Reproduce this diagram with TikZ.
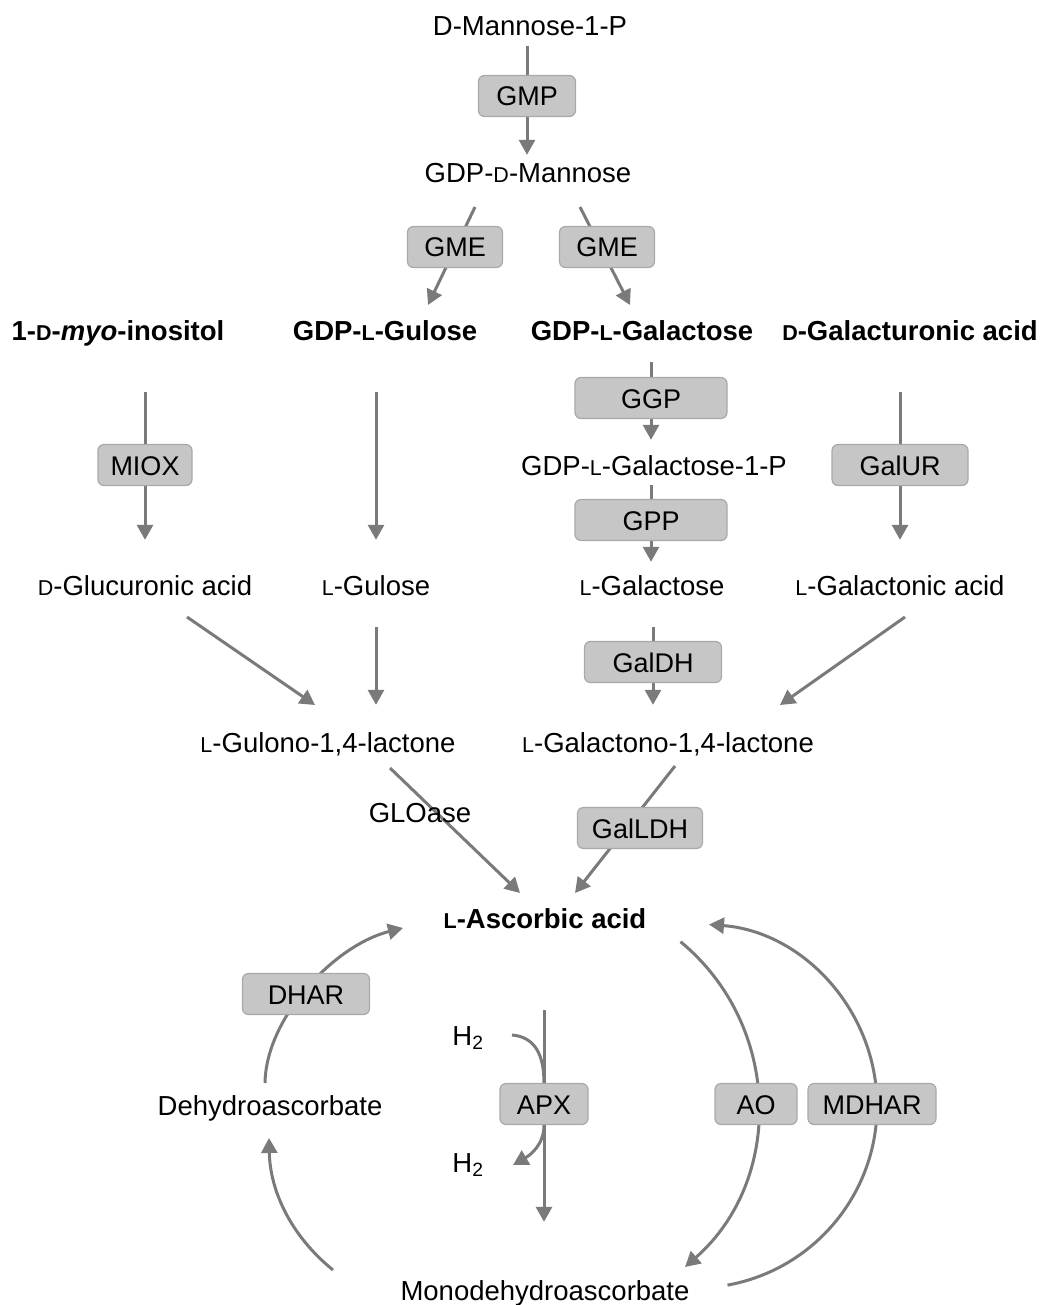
\documentclass[tikz,border=0pt]{standalone}
\usepackage{fontspec}
\setmainfont{Liberation Sans}
\usetikzlibrary{arrows.meta,backgrounds,calc}
\definecolor{lncol}{HTML}{7A7A7A}
\definecolor{boxfill}{HTML}{C6C6C6}
\definecolor{boxdraw}{HTML}{A9A9A9}
\newcommand{\smc}[1]{{\fontsize{21.5}{22}\selectfont #1}}
\begin{document}
\begin{tikzpicture}[x=1pt,y=-1pt,
  lbl/.style={inner sep=0pt, text height=20pt, text depth=0pt, font=\fontsize{27.5}{32}\selectfont},
  blbl/.style={lbl, font=\fontsize{27.5}{32}\selectfont\bfseries},
  enz/.style={draw=boxdraw, fill=boxfill, line width=1.2pt, rounded corners=6pt, minimum height=41pt, inner sep=0pt, font=\fontsize{27}{32}\selectfont, text height=20pt, text depth=0pt},
  ln/.style={draw=lncol, line width=3pt},
  arr/.style={ln, -{Triangle[length=15pt,width=16pt]}},
]
\useasboundingbox (0,0) rectangle (1042,1305);

% metabolites
\node[lbl] (m1p) at (530,26) {D-Mannose-1-P};
\node[lbl] (gdpman) at (528,173) {GDP-\smc{D}-Mannose};
\node[blbl] (inos) at (118,330) {1-\smc{D}-\textit{myo}-inositol};
\node[blbl] (gulose) at (385,330) {GDP-\smc{L}-Gulose};
\node[blbl] (galactose) at (642,330) {GDP-\smc{L}-Galactose};
\node[blbl] (galact) at (910,330) {\smc{D}-Galacturonic acid};
\node[lbl] (gal1p) at (654,465) {GDP-\smc{L}-Galactose-1-P};
\node[lbl] (glucu) at (145,585) {\smc{D}-Glucuronic acid};
\node[lbl] (lgul) at (376,585) {\smc{L}-Gulose};
\node[lbl] (lgal) at (652,585) {\smc{L}-Galactose};
\node[lbl] (lgalac) at (900,585) {\smc{L}-Galactonic acid};
\node[lbl] (gulono) at (328,742) {\smc{L}-Gulono-1,4-lactone};
\node[lbl] (galono) at (668,742) {\smc{L}-Galactono-1,4-lactone};
\node[blbl] (asc) at (545,918) {\smc{L}-Ascorbic acid};
\node[lbl] (dha) at (270,1105) {Dehydroascorbate};
\node[lbl] (mda) at (545,1290) {Monodehydroascorbate};
\node[lbl] (h2a) at (468,1035) {H\textsubscript{2}};
\node[lbl] (h2b) at (468,1162) {H\textsubscript{2}};

% enzymes
\node[enz, minimum width=97pt] (gmp) at (527,96) {GMP};
\node[enz, minimum width=95pt] (gmeL) at (455,247) {GME};
\node[enz, minimum width=95pt] (gmeR) at (607,247) {GME};
\node[enz, minimum width=94pt] (miox) at (145,465) {MIOX};
\node[enz, minimum width=152pt] (ggp) at (651,398) {GGP};
\node[enz, minimum width=152pt] (gpp) at (651,520) {GPP};
\node[enz, minimum width=136pt] (galur) at (900,465) {GalUR};
\node[enz, minimum width=137pt] (galdh) at (653,662) {GalDH};
\node[enz, minimum width=125pt] (galldh) at (640,828) {GalLDH};
\node[enz, minimum width=127pt] (dhar) at (306,994) {DHAR};
\node[enz, minimum width=88pt] (apx) at (544,1104) {APX};
\node[enz, minimum width=82pt] (ao) at (756,1104) {AO};
\node[enz, minimum width=128pt] (mdhar) at (872,1104) {MDHAR};

\begin{scope}[on background layer]
\draw[arr, shorten <=10pt, shorten >=8pt] (m1p.south -| gmp) -- (gdpman.north -| gmp);
\draw[arr] ($(gdpman)+(-53,34)$) -- ($(gulose)+(43,-25)$);
\draw[arr] ($(gdpman)+(52,34)$) -- ($(galactose)+(-12,-25)$);
\draw[arr, shorten <=52pt, shorten >=35pt] (inos.south -| miox) -- (glucu.north -| miox);
\draw[arr, shorten <=52pt, shorten >=35pt] (gulose.south -| lgul) -- (lgul.north);
\draw[arr, shorten <=22pt, shorten >=15pt] (galactose.south -| ggp) -- (gal1p.north -| ggp);
\draw[arr, shorten <=10pt, shorten >=13pt] (gal1p.south -| gpp) -- (lgal.north -| gpp);
\draw[arr, shorten <=32pt, shorten >=27pt] (lgal.south -| galdh) -- (galono.north -| galdh);
\draw[arr, shorten <=52pt, shorten >=35pt] (galact.south -| galur) -- (lgalac.north -| galur);
\draw[arr, shorten <=32pt, shorten >=27pt] (lgul.south) -- (lgul.south |- gulono.north);
\draw[arr] ($(glucu)+(42,32)$) -- ($(gulono)+(-13,-37)$);
\draw[arr] ($(lgalac)+(5,32)$) -- ($(galono)+(112,-37)$);
\draw[arr] ($(gulono)+(62,26)$) -- ($(asc)+(-25,-25)$);
\draw[arr] ($(galono)+(7,24)$) -- ($(asc)+(30,-25)$);
% recycling
\draw[arr] ($(dha)+(-5,-22)$) .. controls ($(dha)+(-4,-88)$) and ($(dha)+(65,-160)$) .. ($(asc)+(-142,10)$);
\draw[arr] ($(mda)+(-212,-20)$) .. controls ($(mda)+(-255,-55)$) and ($(dha)+(0,85)$) .. ($(dha)+(-1,33)$);
\draw[arr, shorten <=82pt, shorten >=58pt] (asc.south -| apx) -- (mda.north -| apx);
\draw[ln] ($(h2a)+(44,0)$) .. controls ($(apx.north)+(-9,-46)$) and ($(apx.north)+(0,-28)$) .. (apx.north);
\draw[arr] (apx.south) .. controls ($(apx.south)+(0,20)$) and ($(apx.south)+(-14,30)$) .. ($(h2b)+(45,3)$);
\draw[arr] ($(asc)+(135.5,23.7)$) .. controls ($(asc)+(237,107.5)$) and ($(asc)+(239,262)$) .. ($(mda)+(140,-23)$);
\draw[arr] ($(mda)+(182.5,-4.9)$) .. controls ($(mda)+(272.5,-21.3)$) and ($(mda)+(336.5,-102)$) .. ($(mda)+(331.8,-193.4)$) .. controls ($(mda)+(327.1,-284.8)$) and ($(asc)+(255.2,13.5)$) .. ($(asc)+(164,6.5)$);
\end{scope}
\node[lbl] (gloase) at (420,812) {GLOase};
\end{tikzpicture}
\end{document}
